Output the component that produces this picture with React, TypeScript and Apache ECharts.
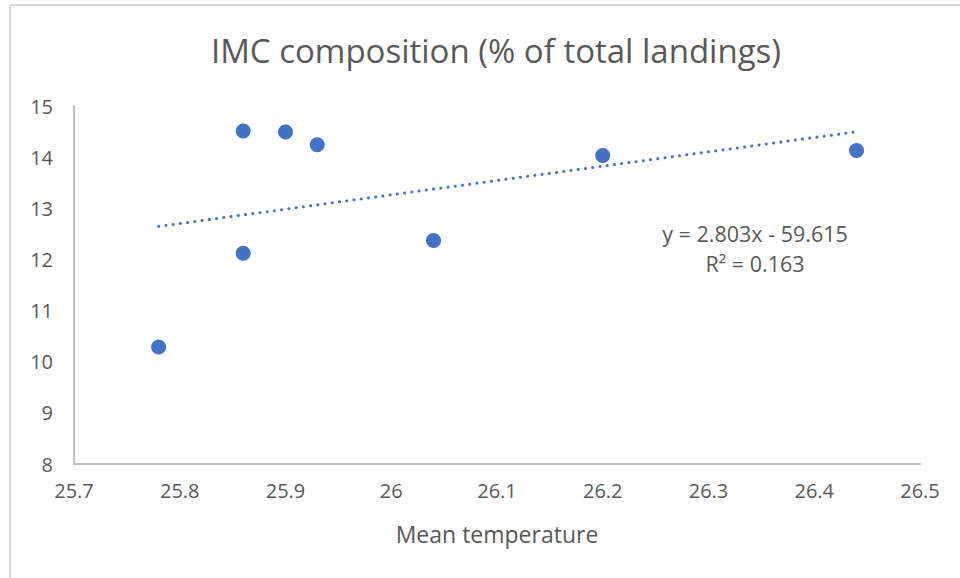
import React, { useEffect, useRef } from "react";
import * as echarts from "echarts";

const temperature = [25.78, 25.86, 25.86, 25.9, 25.93, 26.04, 26.2, 26.44];
const imcShare = [10.29, 14.51, 12.12, 14.49, 14.24, 12.37, 14.03, 14.13];
const trendSlope = 2.803;
const trendIntercept = -59.615;
const rSquared = 0.163;
const titleText = "IMC composition (% of total landings)";
const xAxisTitle = "Mean temperature";

const FONT = "'Open Sans', sans-serif";
const GREY = "#595959";
const BLUE = "#4472C4";

export default function App() {
  const ref = useRef<HTMLDivElement>(null);
  useEffect(() => {
    document.body.style.margin = "0";
    const chart = echarts.init(ref.current!, null, { renderer: "svg" });
    const points = temperature.map((t, i) => [t, imcShare[i]]);
    const xMin = Math.min(...temperature);
    const xMax = Math.max(...temperature);
    const trend = [
      [xMin, trendSlope * xMin + trendIntercept],
      [xMax, trendSlope * xMax + trendIntercept],
    ];
    chart.setOption({
      animation: false,
      backgroundColor: "#ffffff",
      textStyle: { fontFamily: FONT },
      title: {
        text: titleText,
        left: 491,
        textAlign: "center",
        top: 29,
        textStyle: { fontFamily: FONT, fontSize: 33, fontWeight: "normal", color: GREY },
      },
      grid: { left: 74, right: 40, top: 106, bottom: 114, containLabel: false },
      xAxis: {
        type: "value",
        min: 25.7,
        max: 26.5,
        interval: 0.1,
        name: xAxisTitle,
        nameLocation: "middle",
        nameGap: 58,
        nameTextStyle: { fontFamily: FONT, fontSize: 23, color: GREY },
        axisLine: { show: true, lineStyle: { color: "#bfbfbf", width: 2 } },
        axisTick: { show: false },
        splitLine: { show: false },
        axisLabel: {
          margin: 16,
          fontSize: 20,
          color: GREY,
          fontFamily: FONT,
          formatter: (v: number) => String(+v.toFixed(1)),
        },
      },
      yAxis: {
        type: "value",
        min: 8,
        max: 15,
        interval: 1,
        axisLine: { show: true, lineStyle: { color: "#bfbfbf", width: 2 } },
        axisTick: { show: false },
        splitLine: { show: false },
        axisLabel: { margin: 21, fontSize: 20, color: GREY, fontFamily: FONT },
      },
      series: [
        {
          type: "line",
          data: trend,
          symbol: "none",
          lineStyle: { color: BLUE, width: 3, type: [0.1, 7.2], cap: "round" },
          silent: true,
          z: 1,
        },
        {
          type: "scatter",
          data: points,
          symbolSize: 15,
          itemStyle: { color: BLUE, opacity: 1 },
          z: 2,
        },
      ],
      graphic: [
        {
          type: "line",
          shape: { x1: 10, y1: 5, x2: 10, y2: 578 },
          style: { stroke: "#d9d9d9", lineWidth: 2 },
        },
        {
          type: "line",
          shape: { x1: 10, y1: 5, x2: 960, y2: 5 },
          style: { stroke: "#d9d9d9", lineWidth: 2 },
        },
        {
          type: "text",
          x: 755,
          y: 233,
          style: {
            text: `y = ${trendSlope}x - ${Math.abs(trendIntercept)}`,
            fontFamily: FONT,
            fontSize: 21.5,
            fill: GREY,
            align: "center",
            verticalAlign: "middle",
          },
        },
        {
          type: "text",
          x: 755,
          y: 263,
          style: {
            text: `R² = ${rSquared}`,
            fontFamily: FONT,
            fontSize: 21.5,
            fill: GREY,
            align: "center",
            verticalAlign: "middle",
          },
        },
      ],
    });
    return () => chart.dispose();
  }, []);
  return <div ref={ref} style={{ width: 960, height: 578 }} />;
}
